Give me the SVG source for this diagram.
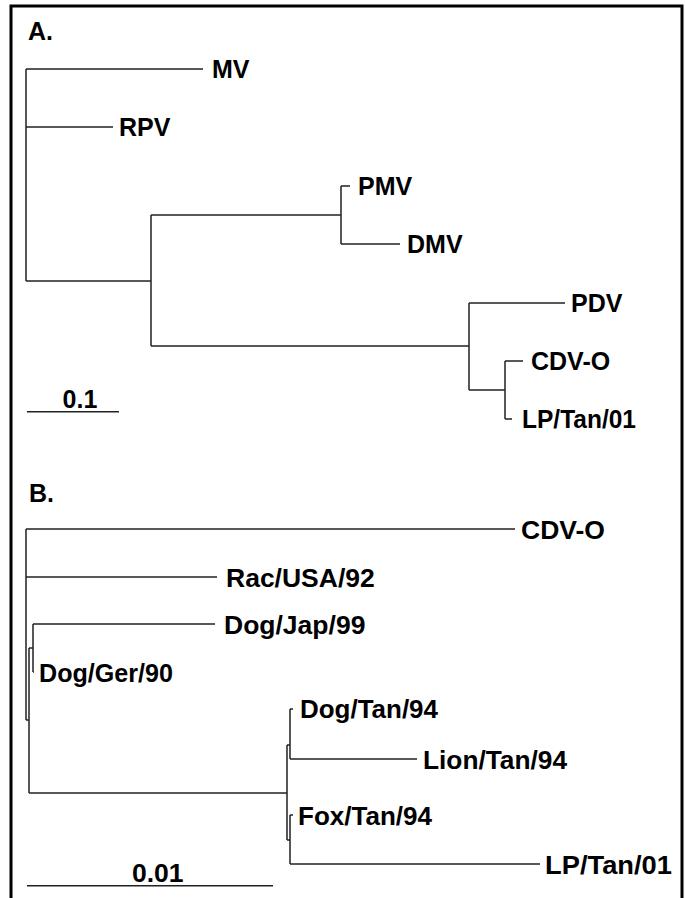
<svg xmlns="http://www.w3.org/2000/svg" width="685" height="898" viewBox="0 0 685 898">
<style>
.t{font-family:"Liberation Sans",Arial,sans-serif;font-weight:bold;fill:#000}
.a{font-size:25px}
.b{font-size:26.5px}
.br{fill:none;stroke:#222;stroke-width:1.5}
.frame{fill:none;stroke:#000;stroke-width:3}
</style>
<rect width="685" height="898" fill="#fff"/>
<path class="frame" d="M11,898 V6 H682 V898"/>
<g id="panelA">
<text class="t a" x="28" y="40">A.</text>
<g id="connectorsA">
<path class="br" d="M26,69 V281 M26,69 H203 M26,127 H113 M26,281 H151"/>
<path class="br" d="M151,215 V346 M151,215 H341 M151,346 H469"/>
<path class="br" d="M341,186 V244 M341,186 H350 M341,244 H400"/>
<path class="br" d="M469,303 V390 M469,303 H565 M469,390 H505"/>
<path class="br" d="M505,361 V419 M505,361 H523 M505,419 H512"/>
</g>
<g id="A_MV"><text class="t a" x="212" y="78">MV</text></g>
<g id="A_RPV"><text class="t a" x="119" y="136">RPV</text></g>
<g id="A_PMV"><text class="t a" x="358" y="195">PMV</text></g>
<g id="A_DMV"><text class="t a" x="407" y="253">DMV</text></g>
<g id="A_PDV"><text class="t a" x="571" y="312">PDV</text></g>
<g id="A_CDVO"><text class="t a" x="531" y="370">CDV-O</text></g>
<g id="A_LP"><text class="t a" x="522" y="428" textLength="114" lengthAdjust="spacingAndGlyphs">LP/Tan/01</text></g>
<g id="A_scale">
<path class="br" d="M27,411.7 H119"/>
<text class="t a" x="80" y="408" text-anchor="middle">0.1</text>
</g>
</g>
<g id="panelB">
<text class="t a" x="29" y="502">B.</text>
<g id="connectorsB">
<path class="br" d="M26,529 V720 M26,529 H515 M26,577 H217 M26,720 H29"/>
<path class="br" d="M29,648 V793 M29,648 H33 M29,793 H287"/>
<path class="br" d="M33,624 V672 M33,624 H215 M33,672 H34"/>
<path class="br" d="M287,745 V840 M287,745 H290 M287,840 H290"/>
<path class="br" d="M290,709 V759 M290,709 H293 M290,759 H417"/>
<path class="br" d="M290,815 V864 M290,815 H293 M290,864 H540"/>
</g>
<g id="B_CDVO"><text class="t b" x="521" y="538.5">CDV-O</text></g>
<g id="B_Rac"><text class="t b" x="226" y="587">Rac/USA/92</text></g>
<g id="B_DogJap"><text class="t b" x="224" y="633.5">Dog/Jap/99</text></g>
<g id="B_DogGer"><text class="t b" x="39" y="681.5" textLength="134" lengthAdjust="spacingAndGlyphs">Dog/Ger/90</text></g>
<g id="B_DogTan"><text class="t b" x="300" y="717.5" textLength="138" lengthAdjust="spacingAndGlyphs">Dog/Tan/94</text></g>
<g id="B_Lion"><text class="t b" x="423" y="768.5" textLength="144" lengthAdjust="spacingAndGlyphs">Lion/Tan/94</text></g>
<g id="B_Fox"><text class="t b" x="298" y="824.5" textLength="134" lengthAdjust="spacingAndGlyphs">Fox/Tan/94</text></g>
<g id="B_LP"><text class="t b" x="545" y="873.5" textLength="127" lengthAdjust="spacingAndGlyphs">LP/Tan/01</text></g>
<g id="B_scale">
<path class="br" d="M27,885.7 H273"/>
<text class="t b" x="157.7" y="881.5" text-anchor="middle">0.01</text>
</g>
</g>
</svg>
